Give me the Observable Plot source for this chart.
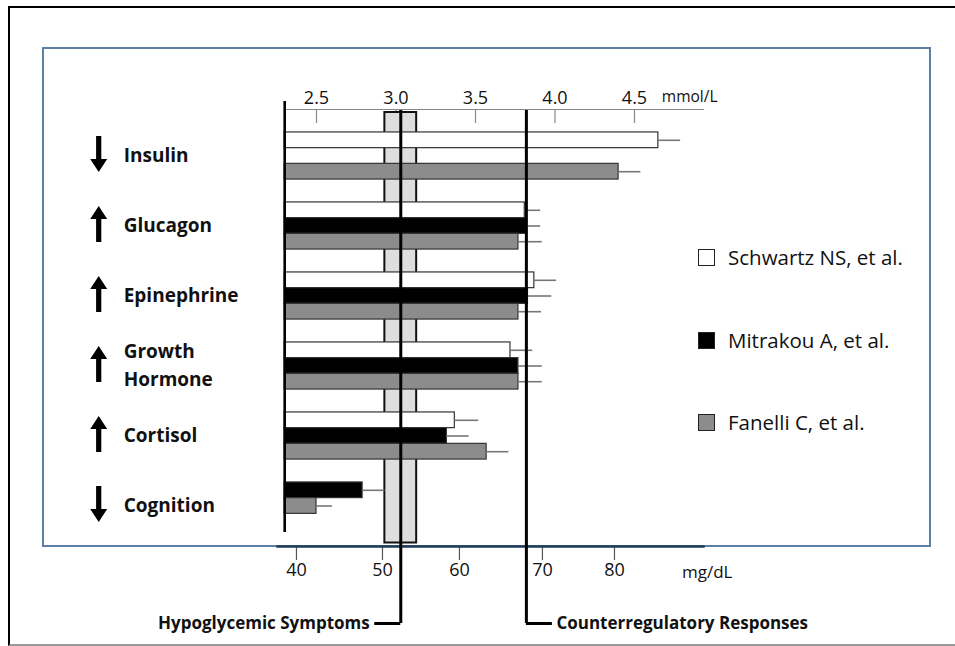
<!DOCTYPE html>
<html>
<head>
<meta charset="utf-8">
<script src="https://cdn.jsdelivr.net/npm/d3@7"></script>
<script src="https://cdn.jsdelivr.net/npm/@observablehq/plot@0.6"></script>
<style>
html, body { margin: 0; padding: 0; background: #fff; }
#wrap { position: relative; width: 955px; height: 646px; overflow: hidden; font-family: "Open Sans", sans-serif; }
#outer { position: absolute; left: 8px; top: 6px; width: 980px; height: 636px; border-left: 2px solid #000; border-top: 2px solid #000; border-bottom: 2px solid #999; }
#panel { position: absolute; left: 42px; top: 47px; width: 889px; height: 500px; border: 2px solid #5f80a6; box-sizing: border-box; }
#chart { position: absolute; left: 0; top: 0; }
#legend { position: absolute; left: 698px; top: 0; }
.item { position: absolute; left: 0; display: flex; align-items: center; white-space: nowrap; font-size: 20.5px; color: #111; }
.sw { width: 15px; height: 15px; border: 1.5px solid #222; margin-right: 13px; }
</style>
</head>
<body>
<div id="wrap">
  <div id="outer"></div>
  <div id="panel"></div>
  <div id="chart"></div>
  <div id="legend"></div>
</div>
<script>
// ---- data (glucose thresholds, read on the mmol/L axis) ----
const categories = ["Insulin", "Glucagon", "Epinephrine", "Growth Hormone", "Cortisol", "Cognition"];
const directions = ["down", "up", "up", "up", "up", "down"];
const studies = ["Schwartz NS, et al.", "Mitrakou A, et al.", "Fanelli C, et al."];
const studyFills = ["#ffffff", "#000000", "#8c8c8c"];
const schwartz    = [4.65, 3.81, 3.87, 3.72, 3.37, null];
const schwartzErr = [0.14, 0.10, 0.14, 0.14, 0.15, null];
const mitrakou    = [null, 3.82, 3.83, 3.77, 3.32, 2.79];
const mitrakouErr = [null, 0.09, 0.15, 0.15, 0.14, 0.14];
const fanelli     = [4.40, 3.77, 3.77, 3.77, 3.57, 2.50];
const fanelliErr  = [0.14, 0.15, 0.145, 0.15, 0.14, 0.10];
const topTicks = [2.5, 3.0, 3.5, 4.0, 4.5];            // mmol/L
const mgTicks = [40, 50, 60, 70, 80];                  // mg/dL labels
const mgTickAt = [2.374, 2.915, 3.399, 3.921, 4.374];  // where those ticks sit on the mmol/L scale
const baseline = 2.3;
const symptomBand = [2.93, 3.13];
const thresholdLabels = ["Hypoglycemic Symptoms", "Counterregulatory Responses"];
const thresholdValues = [3.03, 3.82];

// ---- table built from the arrays ----
const values = [schwartz, mitrakou, fanelli];
const errs = [schwartzErr, mitrakouErr, fanelliErr];
const slotH = 15.7 / 70;
const rows = [];
categories.forEach((c, i) => {
  const shift = values[0][i] == null ? -1 : 0;   // pack bars upward when the first study is missing
  studies.forEach((s, k) => {
    const v = values[k][i];
    if (v == null) return;
    const slot = k + shift;
    const y1 = i - 1.5 * slotH + slot * slotH;
    rows.push({category: c, study: s, k, value: v, err: errs[k][i], y1, y2: y1 + slotH, ym: y1 + slotH / 2});
  });
});
const thresholds = thresholdLabels.map((l, j) => ({label: l, value: thresholdValues[j], dir: j === 0 ? -1 : 1}));
const bottomTicks = mgTickAt.map((at, j) => ({at, label: String(mgTicks[j])}));

// ---- layout ----
const W = 955, H = 646;
const xDomain = [2.5, 4.5], xRange = [316, 634];
const yDomain = [0, 5], yRange = [155.5, 505.5];
const yPix = d3.scaleLinear().domain(yDomain).range(yRange);
const calloutY = yPix.invert(623);
const callLen = 26 / 159;
const mT = 109, mB = 100, mL = 284, mR = 252;
const frameH = H - mT - mB;

const arrowShape = {
  draw(context, l) {
    const hw = 8.5, sw = 2.6, hl = 13;
    context.moveTo(-sw, 0);
    context.lineTo(-sw, -(l - hl));
    context.lineTo(-hw, -(l - hl));
    context.lineTo(0, -l);
    context.lineTo(hw, -(l - hl));
    context.lineTo(sw, -(l - hl));
    context.lineTo(sw, 0);
    context.closePath();
  }
};

const chart = Plot.plot({
  width: W, height: H,
  marginTop: mT, marginBottom: mB, marginLeft: mL, marginRight: mR,
  style: {background: "none", fontFamily: "Open Sans, sans-serif", fontSize: "16px", color: "#111", overflow: "visible"},
  x: {domain: xDomain, range: xRange, axis: null},
  y: {domain: yDomain, range: yRange, axis: null},
  marks: [
    // top mmol/L axis
    Plot.frame({anchor: "top", stroke: "#888", strokeWidth: 1.2}),
    Plot.ruleX(topTicks, {x: d => d, stroke: "#888", strokeWidth: 1.2, insetBottom: frameH - 14}),
    Plot.text(topTicks, {x: d => d, text: d3.format(".1f"), frameAnchor: "top", lineAnchor: "bottom", dy: -6, fontSize: 18}),
    Plot.text(["mmol/L"], {frameAnchor: "top-right", textAnchor: "end", lineAnchor: "middle", dx: 14, dy: -12, fontSize: 15.5}),
    // bottom mg/dL axis
    Plot.ruleX(bottomTicks, {x: "at", stroke: "#555", strokeWidth: 1.2, insetTop: frameH + 1, insetBottom: -14}),
    Plot.text(bottomTicks, {x: "at", text: "label", frameAnchor: "bottom", lineAnchor: "top", dy: 17, fontSize: 18}),
    Plot.frame({anchor: "bottom", stroke: "#1f3b5a", strokeWidth: 2.5, insetLeft: -7}),
    Plot.text(["mg/dL"], {frameAnchor: "bottom-right", textAnchor: "end", lineAnchor: "middle", dx: 29, dy: 26, fontSize: 17}),
    // symptom band
    Plot.rect([symptomBand], {x1: d => d[0], x2: d => d[1], insetTop: 3, insetBottom: 3.5, fill: "#dedede", stroke: "#111", strokeWidth: 2}),
    // bars
    Plot.rect(rows, {x1: baseline, x2: "value", y1: "y1", y2: "y2", fill: d => studyFills[d.k], stroke: "#333", strokeWidth: 1.2}),
    // error bars
    Plot.ruleY(rows, {y: "ym", x1: "value", x2: d => d.value + d.err, stroke: "#777", strokeWidth: 1.6}),
    // baseline
    Plot.ruleX([baseline], {stroke: "#000", strokeWidth: 2.6, insetTop: -8, insetBottom: 14}),
    // threshold lines and callouts
    Plot.ruleX(thresholds, {x: "value", stroke: "#000", strokeWidth: 3, insetTop: 1, insetBottom: -77}),
    Plot.ruleY(thresholds, {y: calloutY, x1: "value", x2: d => d.value + d.dir * callLen, stroke: "#000", strokeWidth: 3}),
    Plot.text(thresholds.filter(d => d.dir < 0), {x: d => d.value + d.dir * callLen, y: calloutY, text: "label", textAnchor: "end", dx: -5, fontWeight: "bold", fontSize: 17}),
    Plot.text(thresholds.filter(d => d.dir > 0), {x: d => d.value + d.dir * callLen, y: calloutY, text: "label", textAnchor: "start", dx: 4, fontWeight: "bold", fontSize: 17}),
    // category labels and arrows
    Plot.text(categories, {x: baseline, y: (d, i) => i, text: d => d.replace(" ", "\n"), dx: -161, dy: -3, textAnchor: "start", fontWeight: "bold", fontSize: 19, lineHeight: 1.47}),
    Plot.vector(categories, {x: baseline, y: (d, i) => i, dx: -186, dy: -2, length: 36, anchor: "middle", shape: arrowShape,
      rotate: (d, i) => directions[i] === "up" ? 0 : 180, fill: "#000", stroke: "none"})
  ]
});
document.getElementById("chart").appendChild(chart);

// legend
const legendY = [257, 340, 422];
const legend = document.getElementById("legend");
studies.forEach((s, k) => {
  const it = document.createElement("div");
  it.className = "item";
  it.style.top = (legendY[k] - 14) + "px";
  it.style.height = "28px";
  const sw = document.createElement("span");
  sw.className = "sw";
  sw.style.background = studyFills[k];
  const tx = document.createElement("span");
  tx.textContent = s;
  it.appendChild(sw); it.appendChild(tx);
  legend.appendChild(it);
});
</script>
</body>
</html>
